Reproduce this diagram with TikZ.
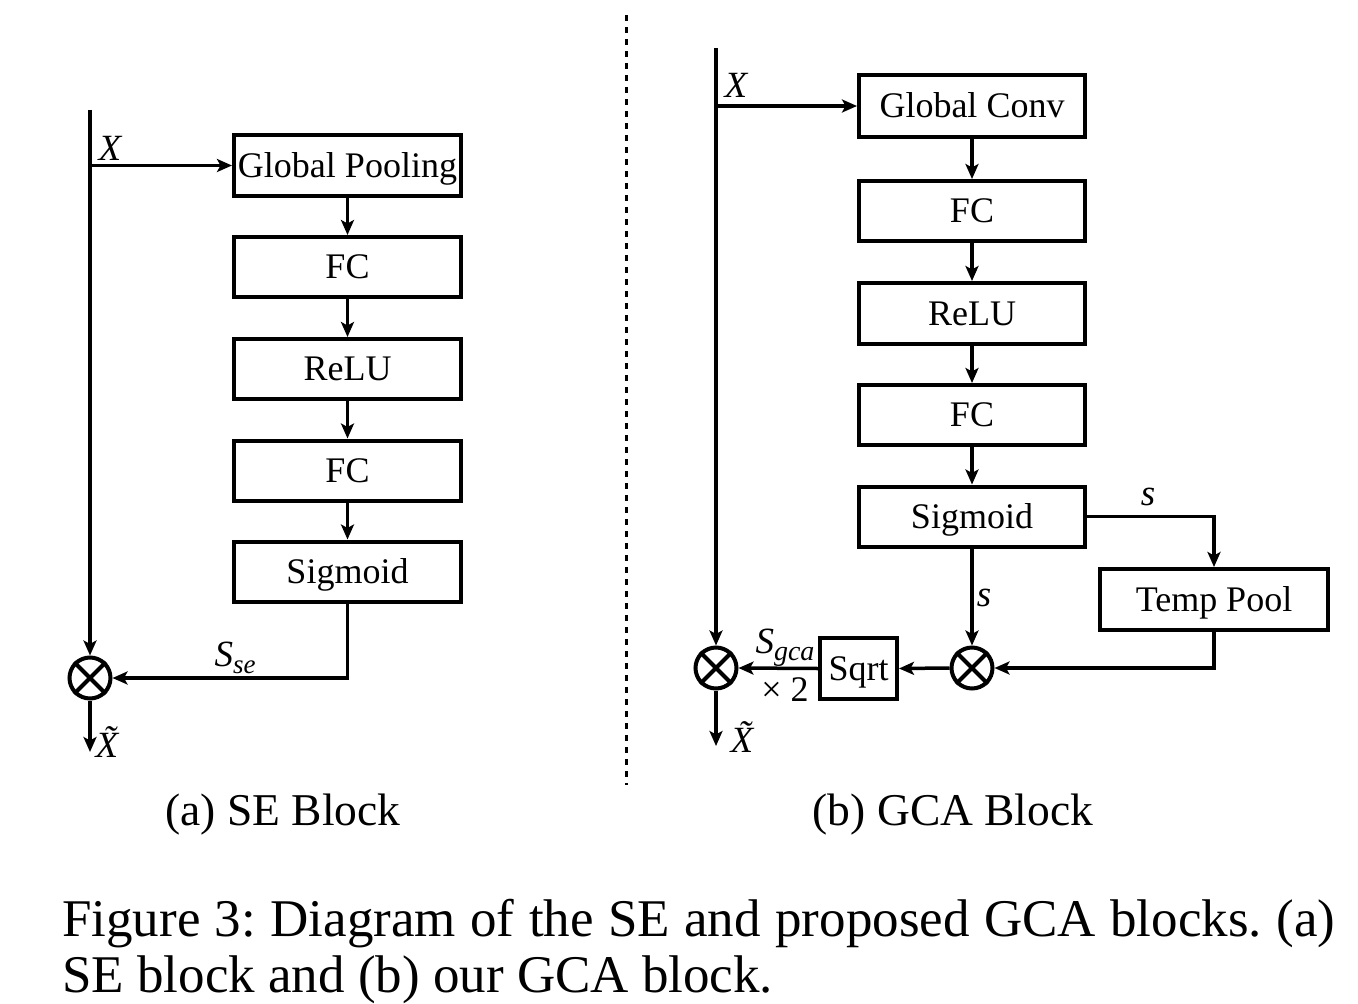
\documentclass[tikz,border=0pt]{standalone}
\usepackage{fontspec}
\setmainfont{Liberation Serif}
\usetikzlibrary{arrows.meta}
\begin{document}
\frenchspacing
\begin{tikzpicture}[x=1pt,y=-1pt,
  arr/.style={line width=3.5pt,-{Stealth[length=15pt,width=13pt,inset=3.5pt]}},
  blk/.style={draw,line width=4pt,inner sep=0pt,text height=23.8pt,text depth=0pt,font=\fontsize{36}{40}\selectfont},
  mul/.style={draw,circle,line width=4pt,minimum size=41pt,inner sep=0pt},
  lab/.style={inner sep=0pt,font=\fontsize{37}{40}\selectfont\itshape},
  sub/.style={inner sep=0pt,font=\fontsize{45.5}{50}\selectfont}]
\useasboundingbox (0,0) rectangle (1358,1004);
% separator
\draw[line width=3pt,dash pattern=on 6pt off 6pt] (626,15) -- (626,785);
% ---------- (a) SE block ----------
\node[blk,minimum width=227pt,minimum height=61pt] (gp) at (347.5,165.5) {Global Pooling};
\node[blk,minimum width=227pt,minimum height=60pt] (fca) at (347.5,267) {FC};
\node[blk,minimum width=227pt,minimum height=60pt] (rla) at (347.5,369) {ReLU};
\node[blk,minimum width=227pt,minimum height=60pt] (fcb) at (347.5,470.5) {FC};
\node[blk,minimum width=227pt,minimum height=60pt] (sga) at (347.5,571.5) {Sigmoid};
\node[mul] (Lc) at (90,678) {};
\draw[line width=4pt] (Lc.45) -- (Lc.225) (Lc.135) -- (Lc.315);
\coordinate (Ltop) at (90,110);
\coordinate (Lsplit) at (90,165.5);
\coordinate (Lout) at (90,752);
\draw[line width=3.5pt] (Ltop) -- (Lsplit);
\draw[arr] (Lsplit) -- (Lc.north);
\draw[arr] (Lsplit) -- (gp.west);
\draw[arr] (gp) -- (fca);
\draw[arr] (fca) -- (rla);
\draw[arr] (rla) -- (fcb);
\draw[arr] (fcb) -- (sga);
\draw[arr] (sga.south) |- (Lc.east);
\draw[arr] (Lc.south) -- (Lout);
\node[lab] (xa) at (110,148) {X};
\node[lab] (ssea) at (235,658) {S\raisebox{-7pt}{\fontsize{27}{28}\selectfont se}};
\node[lab] (xta) at (107,742) {\~{X}};
\node[sub] (capa) at (283,815) {(a) SE Block};
% ---------- (b) GCA block ----------
\node[blk,minimum width=226pt,minimum height=62pt] (gc) at (972,106) {Global Conv};
\node[blk,minimum width=226pt,minimum height=60pt] (fcc) at (972,211) {FC};
\node[blk,minimum width=226pt,minimum height=61pt] (rlb) at (972,313.5) {ReLU};
\node[blk,minimum width=226pt,minimum height=60pt] (fcd) at (972,415) {FC};
\node[blk,minimum width=226pt,minimum height=60pt] (sgb) at (972,516.5) {Sigmoid};
\node[blk,minimum width=228pt,minimum height=61pt] (tp) at (1214,599.5) {Temp Pool};
\node[blk,minimum width=77pt,minimum height=61pt] (sq) at (858.5,668.5) {Sqrt};
\node[mul] (Sc) at (972,668) {};
\draw[line width=4pt] (Sc.45) -- (Sc.225) (Sc.135) -- (Sc.315);
\node[mul] (Rc) at (716,668) {};
\draw[line width=4pt] (Rc.45) -- (Rc.225) (Rc.135) -- (Rc.315);
\coordinate (Rtop) at (716,48);
\coordinate (Rsplit) at (716,106);
\coordinate (Rout) at (716,746);
\draw[line width=3.5pt] (Rtop) -- (Rsplit);
\draw[arr] (Rsplit) -- (Rc.north);
\draw[arr] (Rsplit) -- (gc.west);
\draw[arr] (gc) -- (fcc);
\draw[arr] (fcc) -- (rlb);
\draw[arr] (rlb) -- (fcd);
\draw[arr] (fcd) -- (sgb);
\draw[arr] (sgb.east) -| (tp.north);
\draw[arr] (sgb.south) -- (Sc.north);
\draw[arr] (tp.south) |- (Sc.east);
\draw[arr] (Sc.west) -- (sq.east);
\draw[arr] (sq.west) -- (Rc.east);
\draw[arr] (Rc.south) -- (Rout);
\node[lab] (xb) at (736,85) {X};
\node[lab] (s1) at (1148,497) {s};
\node[lab] (s2) at (984,598) {s};
\node[lab] (sgca) at (785,648) {S\raisebox{-7pt}{\fontsize{28}{28}\selectfont gca}};
\node[inner sep=0pt,font=\fontsize{36}{40}\selectfont] (x2) at (785,690) {× 2};
\node[lab] (xtb) at (742,737) {\~{X}};
\node[sub] (capb) at (953,815) {(b) GCA Block};
% ---------- caption ----------
\node[inner sep=0pt,anchor=base west,font=\fontsize{53}{56}\selectfont] (cap1) at (62,936)
  {\makebox[1273pt][s]{Figure 3: Diagram of the SE and proposed GCA blocks. (a)}};
\node[inner sep=0pt,anchor=base west,font=\fontsize{53}{56}\selectfont] (cap2) at (62,992)
  {SE block and (b) our GCA block.};
\end{tikzpicture}
\end{document}
